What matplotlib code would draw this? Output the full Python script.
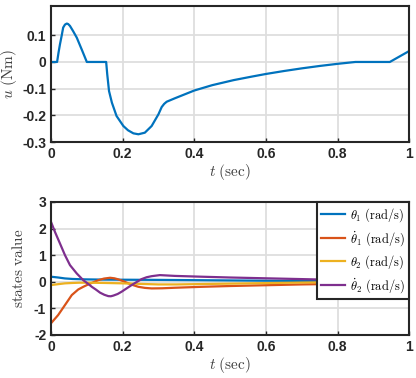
import matplotlib
matplotlib.use("Agg")
import matplotlib.pyplot as plt

plt.rcParams['mathtext.fontset'] = 'cm'
plt.rcParams['font.family'] = ['Liberation Sans', 'DejaVu Sans']

# --- control input u(t) ---
t_u = [0, 0.017, 0.021, 0.025, 0.030, 0.034, 0.039, 0.044, 0.048, 0.053, 0.062,
       0.072, 0.086, 0.100, 0.154, 0.157, 0.162, 0.170, 0.183, 0.202, 0.215,
       0.230, 0.244, 0.262, 0.281, 0.300, 0.309, 0.316, 0.323, 0.346, 0.40,
       0.45, 0.51, 0.56, 0.60, 0.65, 0.70, 0.75, 0.80, 0.85, 0.946, 1.0]
u = [0, 0, 0.035, 0.066, 0.100, 0.129, 0.140, 0.144, 0.142, 0.135, 0.115,
     0.091, 0.046, 0, 0, -0.046, -0.109, -0.1525, -0.2025, -0.240, -0.256,
     -0.2675, -0.271, -0.265, -0.240, -0.196, -0.169, -0.157, -0.149, -0.136, -0.107,
     -0.087, -0.068, -0.055, -0.045, -0.034, -0.024, -0.015, -0.007, 0, 0, 0.041]

# --- states ---
t_th1 = [0, 0.02, 0.039, 0.06, 0.095, 0.15, 0.3, 0.5, 0.7, 0.9, 1.0]
th1 = [0.19, 0.16, 0.125, 0.105, 0.09, 0.08, 0.07, 0.05, 0.03, 0.02, 0.02]

t_dth1 = [0, 0.02, 0.039, 0.058, 0.076, 0.09, 0.104, 0.118, 0.132, 0.148, 0.165,
          0.177, 0.188, 0.202, 0.216, 0.230, 0.244, 0.262, 0.281, 0.310, 0.346,
          0.42, 0.5, 0.6, 0.7, 0.8, 0.9, 1.0]
dth1 = [-1.56, -1.25, -0.875, -0.50, -0.29, -0.19, -0.10, -0.02, 0.06, 0.12, 0.15,
        0.13, 0.09, 0.02, -0.06, -0.13, -0.19, -0.23, -0.25, -0.245, -0.225,
        -0.19, -0.16, -0.13, -0.10, -0.08, -0.07, -0.09]

t_th2 = [0, 0.02, 0.039, 0.06, 0.08, 0.10, 0.15, 0.2, 0.25, 0.3, 0.35, 0.5, 0.7, 0.9, 1.0]
th2 = [-0.125, -0.09, -0.06, -0.045, -0.035, -0.035, -0.045, -0.06, -0.08, -0.10, -0.10,
       -0.07, -0.03, 0.0, 0.02]

t_dth2 = [0, 0.011, 0.025, 0.039, 0.053, 0.072, 0.09, 0.102, 0.114, 0.126, 0.137,
          0.149, 0.160, 0.167, 0.174, 0.186, 0.197, 0.211, 0.225, 0.239, 0.253,
          0.267, 0.281, 0.304, 0.346, 0.42, 0.5, 0.6, 0.7, 0.8, 0.9, 0.95, 0.98, 1.0]
dth2 = [2.25, 1.875, 1.44, 1.00, 0.625, 0.31, 0.06, -0.06, -0.19, -0.30, -0.41,
        -0.49, -0.54, -0.545, -0.52, -0.46, -0.375, -0.25, -0.125, -0.01, 0.10,
        0.17, 0.21, 0.25, 0.22, 0.19, 0.16, 0.13, 0.10, 0.07, 0.05, 0.07, 0.11, 0.10]

labels = [r'$\theta_1\ \mathrm{(rad/s)}$', r'$\dot{\theta}_1\ \mathrm{(rad/s)}$',
          r'$\theta_2\ \mathrm{(rad/s)}$', r'$\dot{\theta}_2\ \mathrm{(rad/s)}$']
colors = ['#0072BD', '#D95319', '#EDB120', '#7E2F8E']

xticks = [0, 0.2, 0.4, 0.6, 0.8, 1]
xticklabels = ['0', '0.2', '0.4', '0.6', '0.8', '1']

fig = plt.figure(figsize=(4.16, 3.78), dpi=100)
ax1 = fig.add_axes([0.1226, 0.6243, 0.861, 0.360])
ax2 = fig.add_axes([0.1226, 0.1138, 0.861, 0.352])

label_color = '#404040'

def style(ax):
    ax.grid(True, color='#dedede', linewidth=1.3)
    ax.set_axisbelow(True)
    for s in ax.spines.values():
        s.set_linewidth(1.5)
        s.set_color('#262626')
    ax.tick_params(direction='in', length=3, width=1.0, labelsize=10, colors='#262626')
    ax.set_xlim(0, 1)
    ax.set_xticks(xticks)
    ax.set_xticklabels(xticklabels, fontweight='bold')

ax1.plot(t_u, u, color=colors[0], lw=1.6)
ax1.set_ylim(-0.3, 0.21)
ax1.set_yticks([-0.3, -0.2, -0.1, 0, 0.1])
ax1.set_yticklabels(['-0.3', '-0.2', '-0.1', '0', '0.1'], fontweight='bold')
style(ax1)
ax1.set_xlabel(r'$t\ \mathrm{(sec)}$', fontsize=11, color=label_color, labelpad=1)
ax1.set_ylabel(r'$u\ \mathrm{(Nm)}$', fontsize=11, color=label_color, labelpad=2)

series = [(t_th1, th1), (t_dth1, dth1), (t_th2, th2), (t_dth2, dth2)]
for (tt, yy), c, lab in zip(series, colors, labels):
    ax2.plot(tt, yy, color=c, lw=1.6, label=lab)
ax2.set_ylim(-2, 3)
ax2.set_yticks([-2, -1, 0, 1, 2, 3])
ax2.set_yticklabels(['-2', '-1', '0', '1', '2', '3'], fontweight='bold')
style(ax2)
ax2.set_xlabel(r'$t\ \mathrm{(sec)}$', fontsize=11, color=label_color, labelpad=1)
ax2.set_ylabel(r'$\mathrm{states\ value}$', fontsize=11, color=label_color, labelpad=6)
leg = ax2.legend(loc='upper right', fontsize=9, frameon=True, fancybox=False,
                 borderpad=0.35, labelspacing=0.42, handlelength=1.9,
                 handletextpad=0.4, borderaxespad=0.0)
leg.get_frame().set_edgecolor('#262626')
leg.get_frame().set_linewidth(1.5)
leg.get_frame().set_alpha(1)

fig.savefig('out.png', dpi=100)
